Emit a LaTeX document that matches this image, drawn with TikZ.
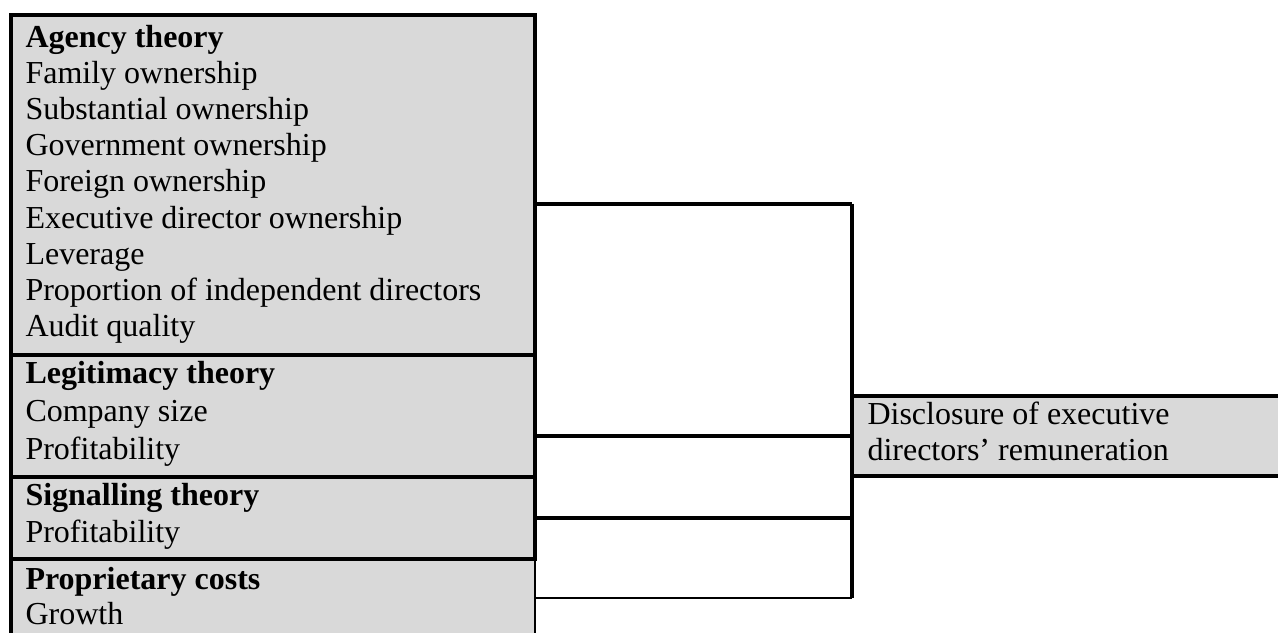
\documentclass[tikz,border=0pt]{standalone}
\usepackage{fontspec}
\setmainfont{Liberation Serif}
\definecolor{boxgray}{HTML}{D9D9D9}
\begin{document}
\begin{tikzpicture}[x=0.5pt,y=-0.5pt,
  box/.style={fill=boxgray,draw=black,line width=2pt,inner sep=0pt,outer sep=0pt,anchor=north west},
  openbox/.style={fill=boxgray,draw=none,inner sep=0pt,outer sep=0pt,anchor=north west},
  txt/.style={inner sep=0pt,outer sep=0pt,anchor=base west,font=\fontsize{16pt}{19pt}\selectfont},
  conn/.style={draw=black,line width=2pt},
  thinconn/.style={draw=black,line width=1.2pt}]
\useasboundingbox (0,0) rectangle (1278,632);
% boxes
\node[openbox,minimum width=262pt,minimum height=37pt] (propr) at (11,559) {};
\draw[line width=2pt] (propr.south west) -- (propr.north west);
\draw[line width=1.2pt] (propr.north east) -- (propr.south east);
\node[box,line width=2.2pt,minimum width=262pt,minimum height=170pt] (agency) at (11,15) {};
\node[box,minimum width=262pt,minimum height=61pt] (legit) at (11,355) {};
\node[box,minimum width=262pt,minimum height=41pt] (signal) at (11,477) {};
\node[openbox,minimum width=214pt,minimum height=40pt] (discl) at (852,395.5) {};
\draw[line width=2pt] (discl.north east) -- (discl.north west) -- (discl.south west) -- (discl.south east);
% texts
\node[txt] (a0) at (25.5,47) {\textbf{Agency theory}};
\node[txt] (a1) at (25.5,83.2) {Family ownership};
\node[txt] (a2) at (25.5,119.4) {Substantial ownership};
\node[txt] (a3) at (25.5,155.6) {Government ownership};
\node[txt] (a4) at (25.5,191.8) {Foreign ownership};
\node[txt] (a5) at (25.5,228) {Executive director ownership};
\node[txt] (a6) at (25.5,264.2) {Leverage};
\node[txt] (a7) at (25.5,300.4) {Proportion of independent directors};
\node[txt] (a8) at (25.5,336.6) {Audit quality};
\node[txt] (l0) at (25.5,383) {\textbf{Legitimacy theory}};
\node[txt] (l1) at (25.5,421) {Company size};
\node[txt] (l2) at (25.5,459) {Profitability};
\node[txt] (s0) at (25.5,505) {\textbf{Signalling theory}};
\node[txt] (s1) at (25.5,542) {Profitability};
\node[txt] (p0) at (25.5,589) {\textbf{Proprietary costs}};
\node[txt] (p1) at (25.5,624) {Growth};
\node[txt] (d0) at (867.5,424) {Disclosure of executive};
\node[txt] (d1) at (867.5,460.5) {directors’ remuneration};
% connectors
\coordinate (b1) at (852,203.5);
\coordinate (b2) at (852,436);
\coordinate (b3) at (852,518);
\coordinate (b4) at (852,598);
\draw[conn] (agency.east |- b1) -- (b1);
\draw[conn] (legit.east |- b2) -- (b2);
\draw[conn] (signal.east |- b3) -- (b3);
\draw[thinconn] (propr.east |- b4) -- (b4);
\draw[conn] (b1) -- (b4);
\end{tikzpicture}
\end{document}
